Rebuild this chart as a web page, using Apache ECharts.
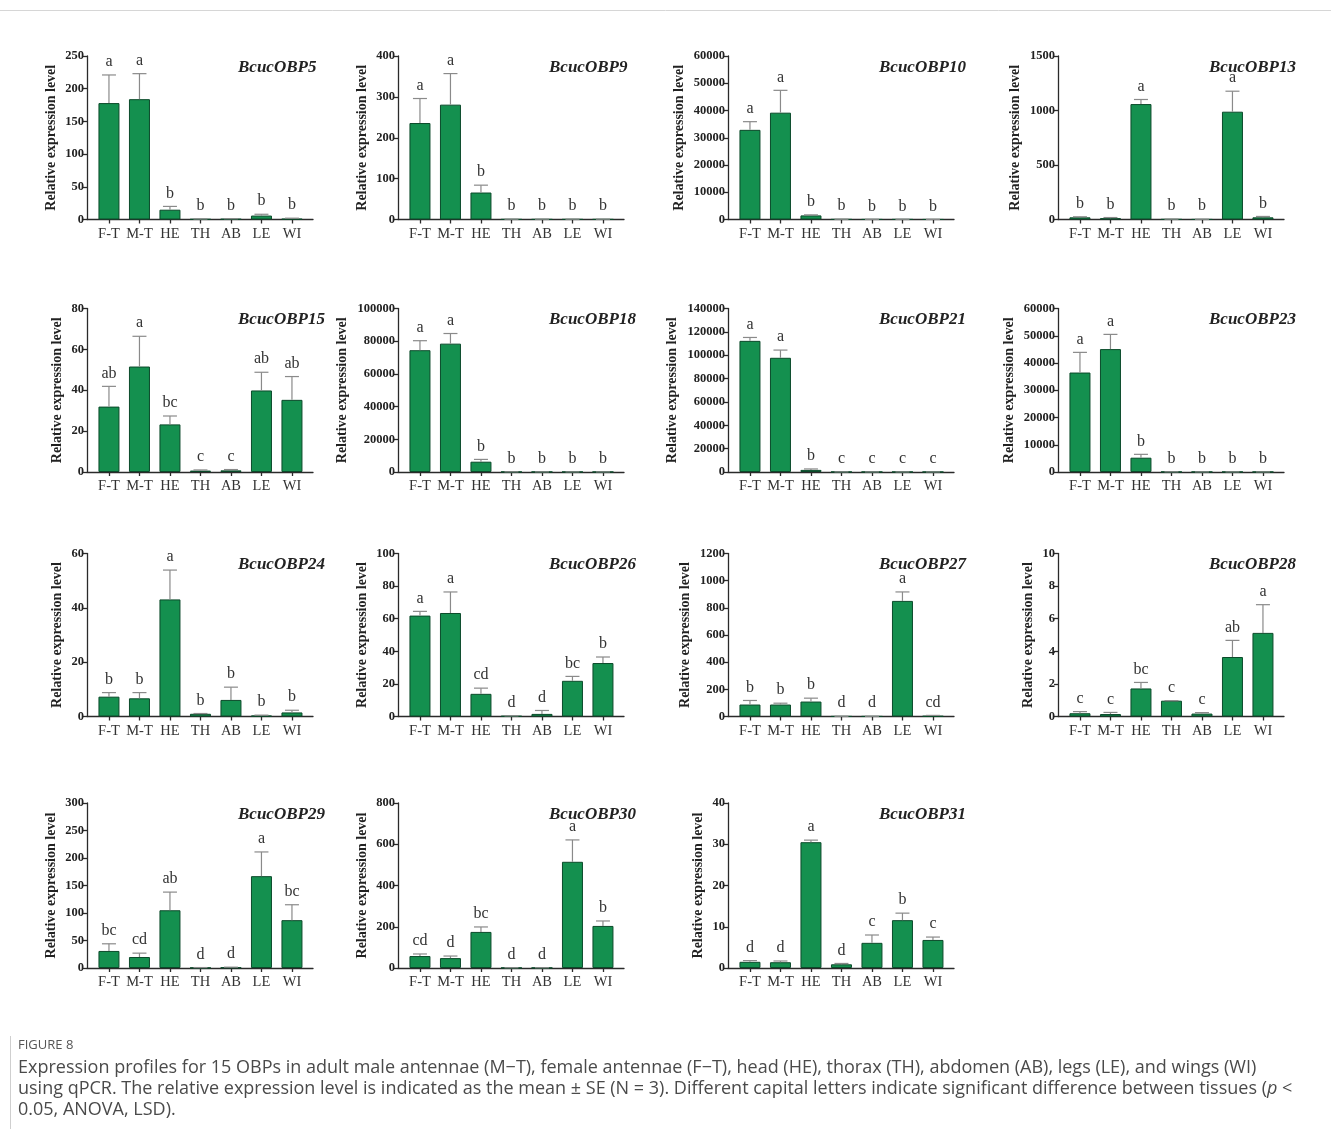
<!DOCTYPE html>
<html><head><meta charset="utf-8">
<script src="https://cdn.jsdelivr.net/npm/echarts@6/dist/echarts.min.js"></script>
<style>html,body{margin:0;padding:0;background:#fff}#c{width:1331px;height:1129px}</style>
</head><body><div id="c"></div>
<script>
// ---------- data ----------
const tissues = ['F-T','M-T','HE','TH','AB','LE','WI'];
const genes = ['BcucOBP5','BcucOBP9','BcucOBP10','BcucOBP13','BcucOBP15','BcucOBP18','BcucOBP21','BcucOBP23','BcucOBP24','BcucOBP26','BcucOBP27','BcucOBP28','BcucOBP29','BcucOBP30','BcucOBP31'];
const yMax  = [250,400,60000,1500, 80,100000,140000,60000, 60,100,1200,10, 300,800,40];
const yStep = [50,100,10000,500, 20,20000,20000,10000, 20,20,200,2, 50,200,10];

const obp5Mean  = [178,184,15,0.5,0.8,6,1];            const obp5Se  = [43,39,5,0.3,0.4,2,1];
const obp9Mean  = [236,281,66,0.5,0.5,0.5,0.5];        const obp9Se  = [60,76,18,0.2,0.2,0.2,0.2];
const obp10Mean = [32900,39200,1500,60,40,50,30];      const obp10Se = [3000,8200,200,20,10,10,10];
const obp13Mean = [20,12,1059,2,1,989,20];             const obp13Se = [5,6,42,1,1,188,8];
const obp15Mean = [32,51.6,23.3,0.7,0.8,39.9,35.3];    const obp15Se = [9.9,14.8,4.1,0.3,0.4,8.9,11.4];
const obp18Mean = [74500,78500,6300,100,80,60,50];     const obp18Se = [5800,6200,1400,30,20,20,20];
const obp21Mean = [112300,97800,1800,100,80,60,50];    const obp21Se = [2900,6600,800,30,20,20,20];
const obp23Mean = [36500,45100,5250,60,40,40,30];      const obp23Se = [7400,5400,1230,20,10,10,10];
const obp24Mean = [7.3,6.7,43.1,1.0,6.1,0.3,1.5];      const obp24Se = [1.5,2.1,10.8,0.1,4.7,0.2,0.8];
const obp26Mean = [61.9,63.5,13.9,0.3,1.6,21.9,32.8];  const obp26Se = [2.6,12.9,3.5,0.1,2.1,2.7,3.7];
const obp27Mean = [88,88,110,1,1,851,3];               const obp27Se = [30,10,25,0.5,0.5,66,5];
const obp28Mean = [0.2,0.15,1.72,0.97,0.18,3.65,5.13]; const obp28Se = [0.1,0.1,0.37,0,0.06,1.02,1.73];
const obp29Mean = [31,20,105,0.5,1,167,87];            const obp29Se = [13,7,33,0.3,0.5,44,28];
const obp30Mean = [58,48,175,1,1,515,204];             const obp30Se = [10,10,24,0.5,0.5,106,24];
const obp31Mean = [1.5,1.4,30.5,0.9,6.1,11.6,6.8];     const obp31Se = [0.3,0.3,0.5,0.2,1.9,1.7,0.7];

const obp5Let  = ['a','a','b','b','b','b','b'];
const obp9Let  = ['a','a','b','b','b','b','b'];
const obp10Let = ['a','a','b','b','b','b','b'];
const obp13Let = ['b','b','a','b','b','a','b'];
const obp15Let = ['ab','a','bc','c','c','ab','ab'];
const obp18Let = ['a','a','b','b','b','b','b'];
const obp21Let = ['a','a','b','c','c','c','c'];
const obp23Let = ['a','a','b','b','b','b','b'];
const obp24Let = ['b','b','a','b','b','b','b'];
const obp26Let = ['a','a','cd','d','d','bc','b'];
const obp27Let = ['b','b','b','d','d','a','cd'];
const obp28Let = ['c','c','bc','c','c','ab','a'];
const obp29Let = ['bc','cd','ab','d','d','a','bc'];
const obp30Let = ['cd','d','bc','d','d','a','b'];
const obp31Let = ['d','d','a','d','c','b','c'];

const means = [obp5Mean,obp9Mean,obp10Mean,obp13Mean,obp15Mean,obp18Mean,obp21Mean,obp23Mean,obp24Mean,obp26Mean,obp27Mean,obp28Mean,obp29Mean,obp30Mean,obp31Mean];
const ses   = [obp5Se,obp9Se,obp10Se,obp13Se,obp15Se,obp18Se,obp21Se,obp23Se,obp24Se,obp26Se,obp27Se,obp28Se,obp29Se,obp30Se,obp31Se];
const lets  = [obp5Let,obp9Let,obp10Let,obp13Let,obp15Let,obp18Let,obp21Let,obp23Let,obp24Let,obp26Let,obp27Let,obp28Let,obp29Let,obp30Let,obp31Let];

// ---------- layout ----------
const colLeft = [87,398,728,1058];
const plotW = 226;
const rowTop = [56,308.5,553.5,803];
const rowBot = [219.5,472,716.5,968];
const SERIF = "'Liberation Serif','Times New Roman',serif";
const GREEN = '#14904f';

const chart = echarts.init(document.getElementById('c'), null, {renderer:'canvas'});
const grid=[], xAxis=[], yAxis=[], series=[], title=[];
genes.forEach((g,k)=>{
  const r = Math.floor(k/4), c = k%4;
  grid.push({left:colLeft[c], top:rowTop[r], width:plotW, height:rowBot[r]-rowTop[r], containLabel:false});
  xAxis.push({type:'value', gridIndex:k, min:-0.72, max:6.69,
    splitLine:{show:false},
    axisLine:{show:true, onZero:false, lineStyle:{color:'#2a2a2a', width:1.3}},
    axisTick:{show:true, customValues:[0,1,2,3,4,5,6], length:4, inside:false, lineStyle:{color:'#2a2a2a', width:1.3}},
    axisLabel:{show:true, customValues:[0,1,2,3,4,5,6], formatter:v=>tissues[Math.round(v)], fontFamily:SERIF, fontSize:14.5, color:'#333', margin:7}
  });
  const maxLabelLen = String(yMax[k]).length;
  yAxis.push({type:'value', gridIndex:k, min:0, max:yMax[k], interval:yStep[k],
    splitLine:{show:false},
    axisLine:{show:true, onZero:false, lineStyle:{color:'#2a2a2a', width:1.3}},
    axisTick:{show:true, length:4, lineStyle:{color:'#2a2a2a', width:1.3}},
    axisLabel:{fontFamily:SERIF, fontWeight:'bold', fontSize:12.5, color:'#222', margin:3, formatter:v=>String(v)},
    name:'Relative expression level', nameLocation:'middle', nameGap: maxLabelLen*6.6+9,
    nameTextStyle:{fontFamily:SERIF, fontWeight:'bold', fontSize:14, color:'#222'}
  });
  title.push({text:g, left:colLeft[c]+151, top:rowTop[r]+3, padding:0,
    textStyle:{fontFamily:SERIF, fontStyle:'italic', fontWeight:'bold', fontSize:17, color:'#222'}});
  series.push({type:'bar', xAxisIndex:k, yAxisIndex:k, barWidth:21,
    itemStyle:{color:GREEN, borderColor:'#0b4a2a', borderWidth:1},
    data: means[k].map((v,i)=>[i,v]), z:2});
  const L = lets[k];
  series.push({type:'custom', xAxisIndex:k, yAxisIndex:k, z:3,
    data: means[k].map((v,i)=>[i,v,ses[k][i]]),
    renderItem:(params, api)=>{
      const x=api.value(0), m=api.value(1), s=api.value(2);
      const p0=api.coord([x,m]), p1=api.coord([x,m+s]);
      const st={stroke:'#8a8a8a', lineWidth:1.2};
      return {type:'group', children:[
        {type:'line', shape:{x1:p0[0],y1:p0[1],x2:p1[0],y2:p1[1]}, style:st},
        {type:'line', shape:{x1:p1[0]-7,y1:p1[1],x2:p1[0]+7,y2:p1[1]}, style:st},
        {type:'text', x:p1[0], y:p1[1]-5, style:{text:L[params.dataIndex], align:'center', verticalAlign:'bottom',
          fontFamily:SERIF, fontSize:16, fill:'#333'}}
      ]};
    }
  });
});

const capFont = "'Open Sans','Noto Sans',sans-serif";
const option = {
  animation:false,
  backgroundColor:'#fff',
  title, grid, xAxis, yAxis, series,
  graphic:[
    {type:'line', shape:{x1:0,y1:10.5,x2:1331,y2:10.5}, style:{stroke:'#d6d6d6', lineWidth:1}},
    {type:'line', shape:{x1:10.5,y1:1036,x2:10.5,y2:1129}, style:{stroke:'#cfcfcf', lineWidth:1}},
    {type:'text', left:18, top:1039, style:{text:'FIGURE 8', fontFamily:capFont, fontSize:13, fill:'#555'}},
    {type:'text', left:18, top:1057, style:{
      text:'Expression profiles for 15 OBPs in adult male antennae (M\u2212T), female antennae (F\u2212T), head (HE), thorax (TH), abdomen (AB), legs (LE), and wings (WI)\nusing qPCR. The relative expression level is indicated as the mean {u|\u00b1} SE (N = 3). Different capital letters indicate significant difference between tissues ({i|p} <\n0.05, ANOVA, LSD).',
      fontFamily:capFont, fontSize:18, lineHeight:21, fill:'#4a4a4a',
      rich:{u:{fontFamily:capFont, fontSize:18, fill:'#4a4a4a', textDecoration:'underline'}, i:{fontFamily:capFont, fontSize:18, fontStyle:'italic', fill:'#4a4a4a'}}
    }}
  ]
};
chart.setOption(option);
</script></body></html>
